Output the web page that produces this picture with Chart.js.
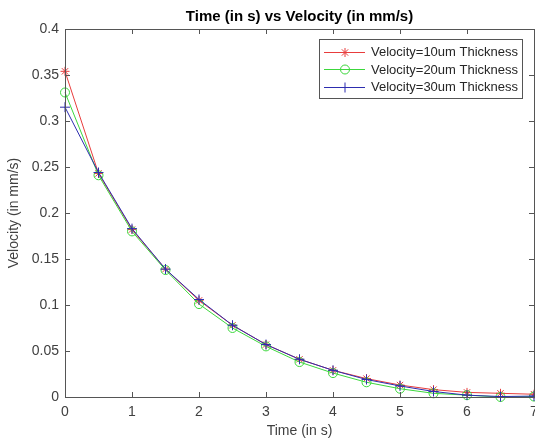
<!DOCTYPE html>
<html>
<head>
<meta charset="utf-8">
<script src="https://cdn.jsdelivr.net/npm/chart.js@4/dist/chart.umd.min.js"></script>
<style>
  html, body { margin: 0; padding: 0; background: #fff; }
  #wrap { width: 535px; height: 445px; }
</style>
</head>
<body>
<div id="wrap"><canvas id="velChart" width="535" height="445"></canvas></div>
<script>
// Donnees
const timeS = [0, 0.5, 1, 1.5, 2, 2.5, 3, 3.5, 4, 4.5, 5, 5.5, 6, 6.5, 7];
const vel10 = [0.354, 0.243, 0.182, 0.139, 0.105, 0.078, 0.057, 0.041, 0.029, 0.020, 0.013, 0.008, 0.005, 0.004, 0.003];
const vel20 = [0.331, 0.241, 0.180, 0.138, 0.101, 0.075, 0.055, 0.038, 0.026, 0.016, 0.009, 0.004, 0.002, 0.000, 0.0005];
const vel30 = [0.315, 0.244, 0.183, 0.139, 0.106, 0.078, 0.057, 0.041, 0.029, 0.019, 0.012, 0.006, 0.002, 0.0005, 0.001];
const seriesLabels = ['Velocity=10um Thickness', 'Velocity=20um Thickness', 'Velocity=30um Thickness'];
const xTickLabels = ['0', '1', '2', '3', '4', '5', '6', '7'];
const yTickLabels = ['0', '0.05', '0.1', '0.15', '0.2', '0.25', '0.3', '0.35', '0.4'];

const FONT = "'Liberation Sans', Arial, Helvetica, sans-serif";
const RED = 'rgb(232,60,60)';
const GREEN = 'rgb(60,215,60)';
const BLUE = 'rgb(45,45,175)';
const AXIS = '#555';

function pts(ys) {
    return timeS.map((t, i) => ({ x: t, y: ys[i] }));
}

// petit dessin des marqueurs pour la legende
function drawMarker(ctx, style, x, y, r, color) {
    ctx.save();
    ctx.strokeStyle = color;
    ctx.lineWidth = 1;
    ctx.beginPath();
    if (style === 'circle') {
        ctx.arc(x, y, r, 0, Math.PI * 2);
    } else {
        ctx.moveTo(x - r, y); ctx.lineTo(x + r, y);
        ctx.moveTo(x, y - r); ctx.lineTo(x, y + r);
        if (style === 'star') {
            const d = r * Math.SQRT1_2;
            ctx.moveTo(x - d, y - d); ctx.lineTo(x + d, y + d);
            ctx.moveTo(x - d, y + d); ctx.lineTo(x + d, y - d);
        }
    }
    ctx.stroke();
    ctx.restore();
}

// boite, graduations vers l'interieur (style matlab)
const boxPlugin = {
    id: 'matlabBox',
    afterDatasetsDraw(chart) {
        const { ctx, chartArea: a, scales } = chart;
        ctx.save();
        ctx.strokeStyle = AXIS;
        ctx.lineWidth = 1;
        ctx.strokeRect(Math.round(a.left) + 0.5, Math.round(a.top) + 0.5,
            Math.round(a.right - a.left), Math.round(a.bottom - a.top));
        const tl = 5;
        ctx.beginPath();
        scales.x.ticks.forEach(t => {
            const px = Math.round(scales.x.getPixelForValue(t.value)) + 0.5;
            ctx.moveTo(px, a.bottom); ctx.lineTo(px, a.bottom - tl);
            ctx.moveTo(px, a.top); ctx.lineTo(px, a.top + tl);
        });
        scales.y.ticks.forEach(t => {
            const py = Math.round(scales.y.getPixelForValue(t.value)) + 0.5;
            ctx.moveTo(a.left, py); ctx.lineTo(a.left + tl, py);
            ctx.moveTo(a.right, py); ctx.lineTo(a.right - tl, py);
        });
        ctx.stroke();
        ctx.restore();
    },
    afterDraw(chart) {
        const { ctx, chartArea: a } = chart;
        const ds = chart.data.datasets;
        const bx = a.right - 215, by = a.top + 10, bw = 203, bh = 59;
        ctx.save();
        ctx.fillStyle = '#fff';
        ctx.fillRect(bx, by, bw, bh);
        ctx.strokeStyle = AXIS;
        ctx.lineWidth = 1;
        ctx.strokeRect(bx + 0.5, by + 0.5, bw, bh);
        ctx.font = '13px ' + FONT;
        ctx.textBaseline = 'middle';
        ctx.textAlign = 'left';
        ds.forEach((d, i) => {
            const y = by + 12.5 + i * 17.5;
            ctx.strokeStyle = d.borderColor;
            ctx.beginPath();
            ctx.moveTo(bx + 5, Math.round(y) + 0.5);
            ctx.lineTo(bx + 46, Math.round(y) + 0.5);
            ctx.stroke();
            drawMarker(ctx, d.pointStyle, bx + 26, Math.round(y) + 0.5, d.pointRadius, d.borderColor);
            ctx.fillStyle = '#262626';
            ctx.fillText(d.label, bx + 52, y + 1);
        });
        ctx.restore();
    }
};

function afficherGraphique() {
    const ctx = document.getElementById('velChart').getContext('2d');
    new Chart(ctx, {
        type: 'line',
        data: {
            datasets: [
                {
                    label: seriesLabels[0], data: pts(vel10),
                    borderColor: RED, backgroundColor: 'rgba(0,0,0,0)',
                    pointStyle: 'star', pointRadius: 4.5, pointBorderColor: RED,
                    borderWidth: 1, pointBorderWidth: 1, order: 3, clip: false
                },
                {
                    label: seriesLabels[1], data: pts(vel20),
                    borderColor: GREEN, backgroundColor: 'rgba(0,0,0,0)',
                    pointStyle: 'circle', pointRadius: 4.5, pointBorderColor: GREEN,
                    borderWidth: 1, pointBorderWidth: 1, order: 2, clip: false
                },
                {
                    label: seriesLabels[2], data: pts(vel30),
                    borderColor: BLUE, backgroundColor: 'rgba(0,0,0,0)',
                    pointStyle: 'cross', pointRadius: 5, pointBorderColor: BLUE,
                    borderWidth: 1, pointBorderWidth: 1, order: 1, clip: false
                }
            ]
        },
        options: {
            responsive: false,
            animation: false,
            layout: { autoPadding: false, padding: { left: 0, right: 1, top: 0, bottom: 0 } },
            plugins: {
                legend: { display: false },
                tooltip: { enabled: false },
                title: {
                    display: true,
                    fullSize: false,
                    text: 'Time (in s) vs Velocity (in mm/s)',
                    color: '#000',
                    font: { family: FONT, size: 15, weight: 'bold' },
                    padding: { top: 8, bottom: 3 }
                }
            },
            scales: {
                x: {
                    type: 'linear', min: 0, max: 7,
                    ticks: {
                        stepSize: 1, padding: 7, color: '#404040',
                        font: { family: FONT, size: 14 },
                        maxRotation: 0,
                        callback: (v, i) => xTickLabels[i]
                    },
                    grid: { display: false, drawTicks: false },
                    border: { display: false },
                    title: {
                        display: true, text: 'Time (in s)', color: '#404040',
                        font: { family: FONT, size: 14 },
                        padding: { top: 0, bottom: 5 }
                    },
                    afterFit(s) { s.height = 48; s.paddingRight = 0; s.paddingLeft = 0; }
                },
                y: {
                    min: 0, max: 0.4,
                    ticks: {
                        stepSize: 0.05, padding: 6, color: '#404040',
                        font: { family: FONT, size: 14 },
                        callback: (v, i) => yTickLabels[i]
                    },
                    grid: { display: false, drawTicks: false },
                    border: { display: false },
                    title: {
                        display: true, text: 'Velocity (in mm/s)', color: '#404040',
                        font: { family: FONT, size: 14 },
                        padding: { top: 6, bottom: 0 }
                    },
                    afterFit(s) { s.width = 65; s.paddingTop = 0; s.paddingBottom = 0; }
                }
            }
        },
        plugins: [boxPlugin]
    });
}
document.addEventListener('DOMContentLoaded', afficherGraphique);
</script>
</body>
</html>
